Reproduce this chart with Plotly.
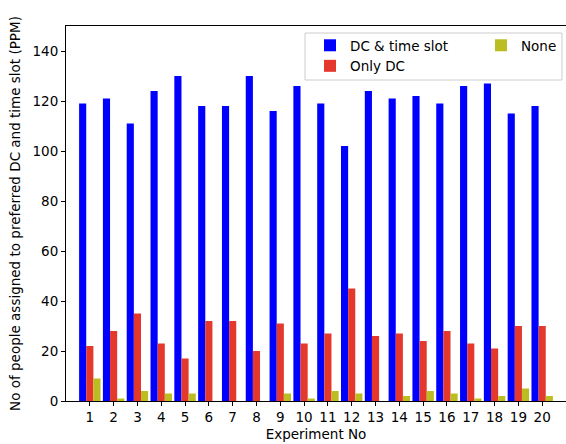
import plotly.graph_objects as go

experiments = list(range(1, 21))
dc_time_slot = [119, 121, 111, 124, 130, 118, 118, 130, 116, 126,
                119, 102, 124, 121, 122, 119, 126, 127, 115, 118]
only_dc = [22, 28, 35, 23, 17, 32, 32, 20, 31, 23,
           27, 45, 26, 27, 24, 28, 23, 21, 30, 30]
none_vals = [9, 1, 4, 3, 3, 0, 0, 0, 3, 1,
             4, 3, 0, 2, 4, 3, 1, 2, 5, 2]
y_ticks = [0, 20, 40, 60, 80, 100, 120, 140]

W, H = 566, 444
L, R, T, B = 66, 0, 26, 43
pw, ph = W - L - R, H - T - B

def px(x):
    return (x - L) / pw

def py(y):
    return (H - B - y) / ph

fig = go.Figure()
fig.add_trace(go.Bar(x=experiments, y=dc_time_slot, name="DC &amp; time slot",
                     marker=dict(color="#0000ff", line=dict(width=0)),
                     legend="legend"))
fig.add_trace(go.Bar(x=experiments, y=only_dc, name="Only DC",
                     marker=dict(color="#e5382c", line=dict(width=0)),
                     legend="legend"))
fig.add_trace(go.Bar(x=experiments, y=none_vals, name="None",
                     marker=dict(color="#bcbd22", line=dict(width=0)),
                     legend="legend2"))

font = dict(family="DejaVu Sans", size=13.5, color="#000000")

fig.update_layout(
    width=W, height=H,
    margin=dict(l=L, r=R, t=T, b=B, pad=0),
    paper_bgcolor="white", plot_bgcolor="white",
    barmode="group", bargap=0.1, bargroupgap=0,
    font=font,
    showlegend=True,
    legend=dict(x=px(310), y=py(30), xanchor="left", yanchor="top",
                bgcolor="rgba(0,0,0,0)", borderwidth=0, font=font,
                orientation="v", itemwidth=30, tracegroupgap=0),
    legend2=dict(x=px(481), y=py(30), xanchor="left", yanchor="top",
                 bgcolor="rgba(0,0,0,0)", borderwidth=0, font=font,
                 orientation="v", itemwidth=30),
    shapes=[dict(type="rect", xref="paper", yref="paper",
                 x0=px(305), x1=px(562), y0=py(80), y1=py(33),
                 line=dict(color="#cccccc", width=1),
                 fillcolor="white", layer="above")],
)

fig.update_xaxes(
    range=[0, 21], tickmode="array", tickvals=experiments,
    ticktext=[str(e) for e in experiments],
    showgrid=False, zeroline=False,
    showline=True, linecolor="black", linewidth=1, mirror=True,
    ticks="outside", ticklen=4, tickcolor="black", tickfont=font,
    title=dict(text="Experiment No", font=font, standoff=5),
)
fig.update_yaxes(
    range=[0, 150], tickmode="array", tickvals=y_ticks,
    ticktext=[str(v) for v in y_ticks],
    showgrid=False, zeroline=False,
    showline=True, linecolor="black", linewidth=1, mirror=False,
    ticks="outside", ticklen=4, tickcolor="black", tickfont=font,
    title=dict(text="No of people assigned to preferred DC and time slot (PPM)",
               font=font, standoff=8),
)

fig.write_html("out.html")
